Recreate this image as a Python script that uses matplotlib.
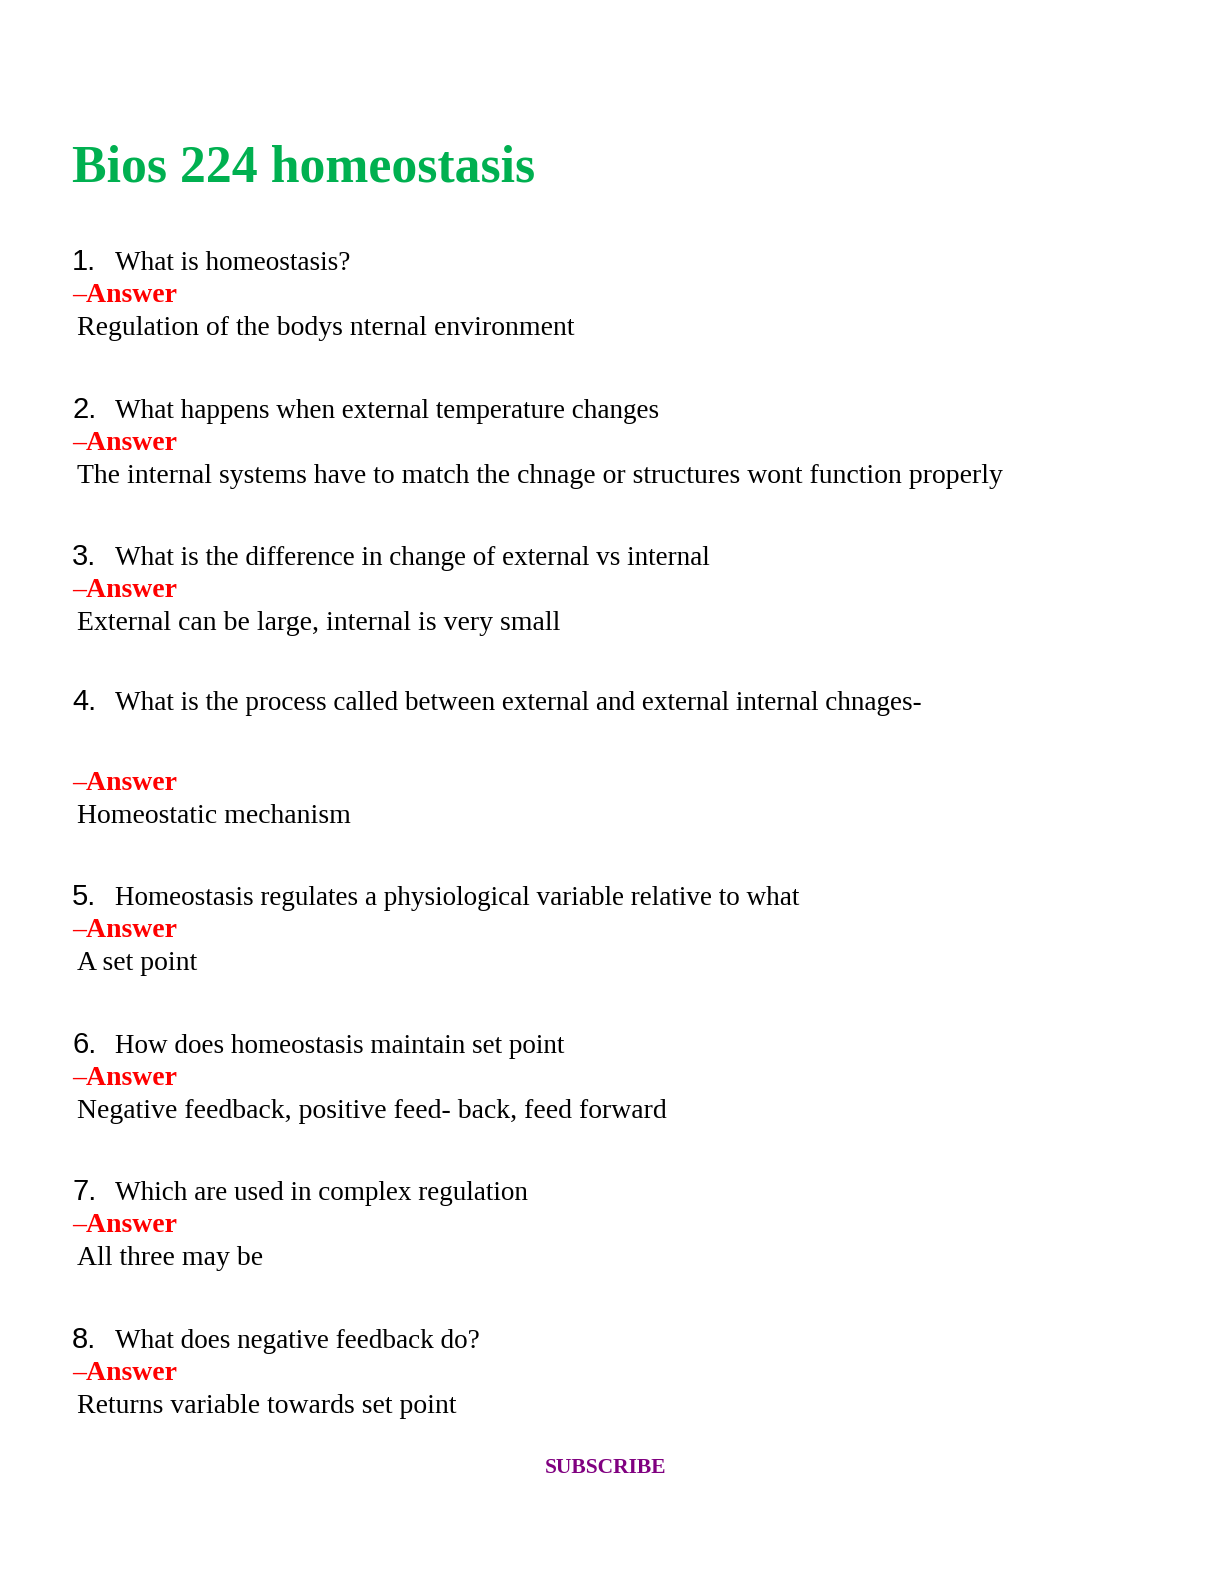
import matplotlib
matplotlib.use("Agg")
import matplotlib.pyplot as plt

title = "Bios 224 homeostasis"
numbers = ["1.", "2.", "3.", "4.", "5.", "6.", "7.", "8."]
questions = [
    "What is homeostasis?",
    "What happens when external temperature changes",
    "What is the difference in change of external vs internal",
    "What is the process called between external and external internal chnages-",
    "Homeostasis regulates a physiological variable relative to what",
    "How does homeostasis maintain set point",
    "Which are used in complex regulation",
    "What does negative feedback do?",
]
answers = [
    "Regulation of the bodys nternal environment",
    "The internal systems have to match the chnage or structures wont function properly",
    "External can be large, internal is very small",
    "Homeostatic mechanism",
    "A set point",
    "Negative feedback, positive feed- back, feed forward",
    "All three may be",
    "Returns variable towards set point",
]
q_base = [270, 418, 565, 710, 905, 1053, 1200, 1348]
ans_gap = [32, 32, 32, 80, 32, 32, 32, 32]

W, H = 1224, 1584
fig = plt.figure(figsize=(W / 100, H / 100), dpi=100)
fig.patch.set_facecolor("white")

def T(x, y, s, **kw):
    fig.text(x / W, 1 - y / H, s, va="baseline", ha=kw.pop("ha", "left"), **kw)

serif = ["Liberation Serif", "DejaVu Serif"]
T(72, 182, title, fontsize=37.3, fontweight="bold", color="#00b050", family=serif)
for n, q, a, yb, g in zip(numbers, questions, answers, q_base, ans_gap):
    T(72, yb, n, fontsize=21, family=["Liberation Sans", "DejaVu Sans"], color="black")
    T(115, yb, q, fontsize=19.5, family=serif, color="black")
    T(72, yb + g, "\u2013Answer", fontsize=20, fontweight="bold", family=serif, color="#ff0000")
    T(77, yb + g + 33, a, fontsize=20, family=serif, color="black")
T(606, 1473, "SUBSCRIBE", fontsize=15.5, fontweight="bold", family=serif, color="#800080", ha="center")

fig.savefig("out.png", dpi=100, facecolor="white")
